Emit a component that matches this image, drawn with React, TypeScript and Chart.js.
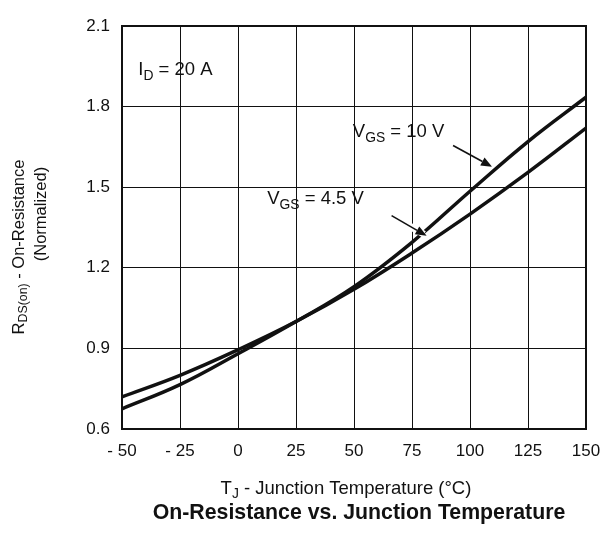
import React, { useEffect, useRef } from 'react';
import { Chart, registerables } from 'chart.js';

Chart.register(...registerables);

// ---- data ----
const temps = [-50, -25, 0, 25, 50, 75, 100, 125, 150];
const rdsVgs10 = [0.675, 0.765, 0.88, 1.0, 1.13, 1.295, 1.485, 1.67, 1.835];
const rdsVgs45 = [0.72, 0.8, 0.895, 1.0, 1.12, 1.255, 1.4, 1.555, 1.72];
const xTicks = [-50, -25, 0, 25, 50, 75, 100, 125, 150];
const xTickLabels = ['- 50', '- 25', '0', '25', '50', '75', '100', '125', '150'];
const yTicks = [0.6, 0.9, 1.2, 1.5, 1.8, 2.1];
const yTickLabels = ['0.6', '0.9', '1.2', '1.5', '1.8', '2.1'];

type Part = { t: string; sub?: boolean };
const idLabel: Part[] = [{ t: 'I' }, { t: 'D', sub: true }, { t: ' = 20 A' }];
const vgs10Label: Part[] = [{ t: 'V' }, { t: 'GS', sub: true }, { t: ' = 10 V' }];
const vgs45Label: Part[] = [{ t: 'V' }, { t: 'GS', sub: true }, { t: ' = 4.5 V' }];
const yTitle1: Part[] = [{ t: 'R' }, { t: 'DS(on)', sub: true }, { t: ' - On-Resistance' }];
const yTitle2: Part[] = [{ t: '(Normalized)' }];
const xTitle: Part[] = [{ t: 'T' }, { t: 'J', sub: true }, { t: ' - Junction Temperature (°C)' }];
const chartTitle = 'On-Resistance vs. Junction Temperature';

// annotation anchors in data units (temperature, normalized R)
const idAnchor = { x: -43, y: 1.935 };
const vgs10Anchor = { x: 49.5, y: 1.705 };
const vgs45Anchor = { x: 12.6, y: 1.455 };
const vgs10Arrow = { x1: 92.7, y1: 1.655, x2: 109.5, y2: 1.576 };
const vgs45Arrow = { x1: 66.2, y1: 1.394, x2: 81.3, y2: 1.319 };

const FONT = "'Liberation Sans', Arial, Helvetica, sans-serif";
const INK = '#111';

function richWidth(ctx: CanvasRenderingContext2D, parts: Part[], size: number, bold = false) {
  let w = 0;
  for (const p of parts) {
    ctx.font = `${bold ? 'bold ' : ''}${p.sub ? size * 0.75 : size}px ${FONT}`;
    w += ctx.measureText(p.t).width;
  }
  return w;
}

function drawRich(
  ctx: CanvasRenderingContext2D,
  parts: Part[],
  x: number,
  y: number,
  size: number,
  align: 'left' | 'center' = 'left',
  bold = false
) {
  const total = richWidth(ctx, parts, size, bold);
  let cx = align === 'center' ? x - total / 2 : x;
  ctx.textBaseline = 'middle';
  ctx.textAlign = 'left';
  ctx.fillStyle = INK;
  for (const p of parts) {
    const s = p.sub ? size * 0.75 : size;
    ctx.font = `${bold ? 'bold ' : ''}${s}px ${FONT}`;
    ctx.fillText(p.t, cx, p.sub ? y + size * 0.3 : y);
    cx += ctx.measureText(p.t).width;
  }
}

function drawArrow(
  ctx: CanvasRenderingContext2D,
  x1: number,
  y1: number,
  x2: number,
  y2: number,
  halo: boolean
) {
  const ang = Math.atan2(y2 - y1, x2 - x1);
  const len = 11;
  const wid = 4.5;
  const bx = x2 - len * Math.cos(ang);
  const by = y2 - len * Math.sin(ang);
  if (halo) {
    ctx.save();
    ctx.strokeStyle = '#fff';
    ctx.lineWidth = 7;
    ctx.beginPath();
    ctx.moveTo(x2 - 20 * Math.cos(ang), y2 - 20 * Math.sin(ang));
    ctx.lineTo(x2 - 3 * Math.cos(ang), y2 - 3 * Math.sin(ang));
    ctx.stroke();
    ctx.restore();
  }
  ctx.strokeStyle = INK;
  ctx.fillStyle = INK;
  ctx.lineWidth = 1.6;
  ctx.beginPath();
  ctx.moveTo(x1, y1);
  ctx.lineTo(bx, by);
  ctx.stroke();
  ctx.beginPath();
  ctx.moveTo(x2, y2);
  ctx.lineTo(bx + wid * Math.sin(ang), by - wid * Math.cos(ang));
  ctx.lineTo(bx - wid * Math.sin(ang), by + wid * Math.cos(ang));
  ctx.closePath();
  ctx.fill();
}

const decorPlugin = {
  id: 'decor',
  afterDraw(chart: any) {
    const { ctx, chartArea, scales } = chart;
    const xs = scales.x;
    const ys = scales.y;
    ctx.save();
    // frame
    ctx.strokeStyle = INK;
    ctx.lineWidth = 2;
    ctx.strokeRect(chartArea.left, chartArea.top, chartArea.right - chartArea.left, chartArea.bottom - chartArea.top);

    // annotations
    drawRich(ctx, idLabel, xs.getPixelForValue(idAnchor.x), ys.getPixelForValue(idAnchor.y), 18.5);
    drawRich(ctx, vgs10Label, xs.getPixelForValue(vgs10Anchor.x), ys.getPixelForValue(vgs10Anchor.y), 18.5);
    drawRich(ctx, vgs45Label, xs.getPixelForValue(vgs45Anchor.x), ys.getPixelForValue(vgs45Anchor.y), 18.5);
    drawArrow(
      ctx,
      xs.getPixelForValue(vgs10Arrow.x1),
      ys.getPixelForValue(vgs10Arrow.y1),
      xs.getPixelForValue(vgs10Arrow.x2),
      ys.getPixelForValue(vgs10Arrow.y2),
      false
    );
    drawArrow(
      ctx,
      xs.getPixelForValue(vgs45Arrow.x1),
      ys.getPixelForValue(vgs45Arrow.y1),
      xs.getPixelForValue(vgs45Arrow.x2),
      ys.getPixelForValue(vgs45Arrow.y2),
      true
    );

    // axis titles
    const midX = (chartArea.left + chartArea.right) / 2;
    drawRich(ctx, xTitle, midX - 8, chartArea.bottom + 60, 18.5, 'center');
    drawRich(ctx, [{ t: chartTitle }], midX + 5, chartArea.bottom + 84, 21.3, 'center', true);

    ctx.save();
    ctx.translate(19, 247);
    ctx.rotate(-Math.PI / 2);
    drawRich(ctx, yTitle1, 0, 0, 16.5, 'center');
    ctx.restore();
    ctx.save();
    ctx.translate(41, 214);
    ctx.rotate(-Math.PI / 2);
    drawRich(ctx, yTitle2, 0, 0, 16.5, 'center');
    ctx.restore();

    ctx.restore();
  },
};

export default function App() {
  const ref = useRef<HTMLCanvasElement>(null);
  useEffect(() => {
    const canvas = ref.current!;
    const chart = new Chart(canvas, {
      type: 'line',
      data: {
        datasets: [
          {
            label: 'VGS = 10 V',
            data: temps.map((t, i) => ({ x: t, y: rdsVgs10[i] })),
            borderColor: INK,
            borderWidth: 3.5,
            pointRadius: 0,
            tension: 0.4,
            fill: false,
          },
          {
            label: 'VGS = 4.5 V',
            data: temps.map((t, i) => ({ x: t, y: rdsVgs45[i] })),
            borderColor: INK,
            borderWidth: 3.5,
            pointRadius: 0,
            tension: 0.4,
            fill: false,
          },
        ],
      },
      options: {
        responsive: false,
        animation: false,
        devicePixelRatio: 1,
        layout: { padding: { left: 0, right: 19, top: 26, bottom: 0 } },
        plugins: {
          legend: { display: false },
          tooltip: { enabled: false },
          title: { display: false },
        },
        scales: {
          x: {
            type: 'linear',
            min: -50,
            max: 150,
            afterBuildTicks: (s: any) => {
              s.ticks = xTicks.map((v) => ({ value: v }));
            },
            afterFit: (s: any) => {
              s.height = 104;
              s.paddingLeft = 0;
              s.paddingRight = 0;
            },
            ticks: {
              callback: (_v: any, i: number) => xTickLabels[i],
              font: { family: FONT, size: 17 },
              color: INK,
              padding: 12,
              maxRotation: 0,
              autoSkip: false,
            },
            grid: { color: INK, lineWidth: 1, drawTicks: false },
            border: { display: false },
          },
          y: {
            type: 'linear',
            min: 0.6,
            max: 2.1,
            afterBuildTicks: (s: any) => {
              s.ticks = yTicks.map((v) => ({ value: v }));
            },
            afterFit: (s: any) => {
              s.width = 122;
              s.paddingTop = 0;
              s.paddingBottom = 0;
            },
            ticks: {
              callback: (_v: any, i: number) => yTickLabels[i],
              font: { family: FONT, size: 17 },
              color: INK,
              padding: 12,
              autoSkip: false,
            },
            grid: { color: INK, lineWidth: 1, drawTicks: false },
            border: { display: false },
          },
        },
      },
      plugins: [decorPlugin],
    } as any);
    return () => chart.destroy();
  }, []);
  return (
    <div style={{ position: 'fixed', left: 0, top: 0, width: 605, height: 533, background: '#fff' }}>
      <canvas ref={ref} width={605} height={533} style={{ display: 'block' }} />
    </div>
  );
}
